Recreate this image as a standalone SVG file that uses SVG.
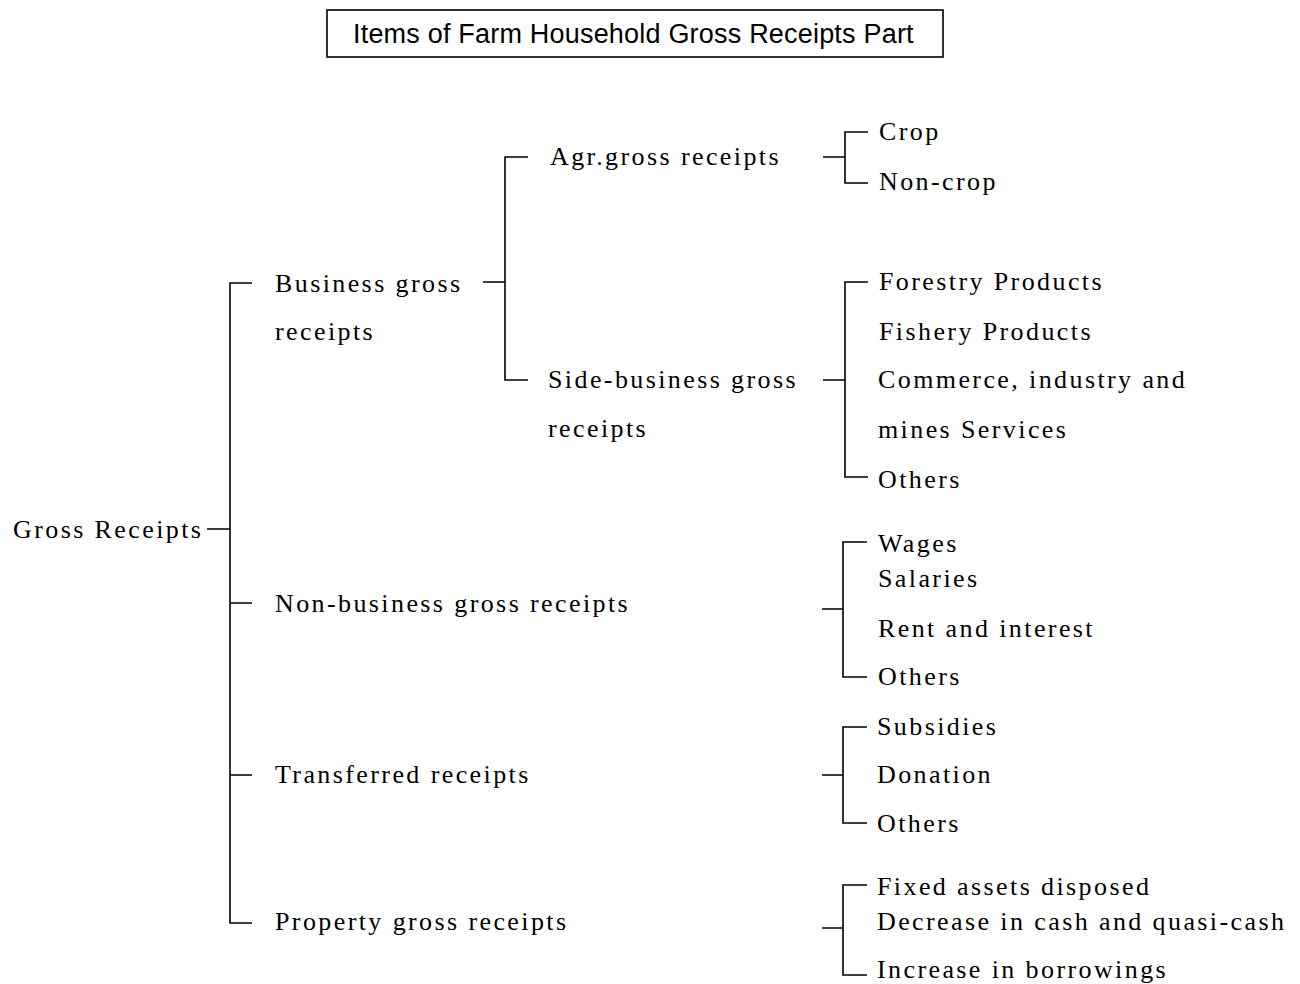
<svg xmlns="http://www.w3.org/2000/svg" width="1300" height="984" viewBox="0 0 1300 984">
<style>
.t{font-family:"Liberation Serif","Times New Roman",serif;font-size:26px;letter-spacing:2.4px;fill:#000}
.h{font-family:"Liberation Sans",Arial,sans-serif;font-size:27px;letter-spacing:0.2px;fill:#000}
.c{stroke:#000;stroke-width:1.6;fill:none}
</style>
<rect width="1300" height="984" fill="#fff"/>
<g id="title">
<rect x="327" y="10" width="616" height="47" fill="none" stroke="#000" stroke-width="1.6"/>
<text class="h" x="353" y="43">Items of Farm Household Gross Receipts Part</text>
</g>
<g id="connectors" class="c">
<path d="M207 529H230M252 283H230V923H252M230 603H252M230 775H252"/>
<path d="M483 282H505M528 157H505V380H528"/>
<path d="M823 157H845M868 132H845V183H868"/>
<path d="M823 380H845M868 282H845V477H868"/>
<path d="M822 609H843M867 542H843V677H867"/>
<path d="M822 775H843M867 727H843V823H867"/>
<path d="M822 928H843M867 885H843V975H867"/>
</g>
<g id="gross"><text class="t" x="13" y="538">Gross Receipts</text></g>
<g id="business"><text class="t" x="275" y="292">Business gross</text><text class="t" x="275" y="340">receipts</text></g>
<g id="nonbusiness"><text class="t" x="275" y="612">Non-business gross receipts</text></g>
<g id="transferred"><text class="t" x="275" y="783">Transferred receipts</text></g>
<g id="property"><text class="t" x="275" y="930">Property gross receipts</text></g>
<g id="agr"><text class="t" x="550" y="165">Agr.gross receipts</text></g>
<g id="side"><text class="t" x="548" y="388">Side-business gross</text><text class="t" x="548" y="437">receipts</text></g>
<g id="crop"><text class="t" x="879" y="140">Crop</text></g>
<g id="noncrop"><text class="t" x="879" y="190">Non-crop</text></g>
<g id="forestry"><text class="t" x="879" y="290">Forestry Products</text></g>
<g id="fishery"><text class="t" x="879" y="340">Fishery Products</text></g>
<g id="commerce"><text class="t" x="878" y="388">Commerce, industry and</text><text class="t" x="878" y="438">mines Services</text></g>
<g id="others1"><text class="t" x="878" y="488">Others</text></g>
<g id="wages"><text class="t" x="878" y="552">Wages</text></g>
<g id="salaries"><text class="t" x="878" y="587">Salaries</text></g>
<g id="rent"><text class="t" x="878" y="637">Rent and interest</text></g>
<g id="others2"><text class="t" x="878" y="685">Others</text></g>
<g id="subsidies"><text class="t" x="877" y="735">Subsidies</text></g>
<g id="donation"><text class="t" x="877" y="783">Donation</text></g>
<g id="others3"><text class="t" x="877" y="832">Others</text></g>
<g id="fixed"><text class="t" x="877" y="895">Fixed assets disposed</text></g>
<g id="decrease"><text class="t" x="877" y="930">Decrease in cash and quasi-cash</text></g>
<g id="increase"><text class="t" x="877" y="978">Increase in borrowings</text></g>
</svg>
